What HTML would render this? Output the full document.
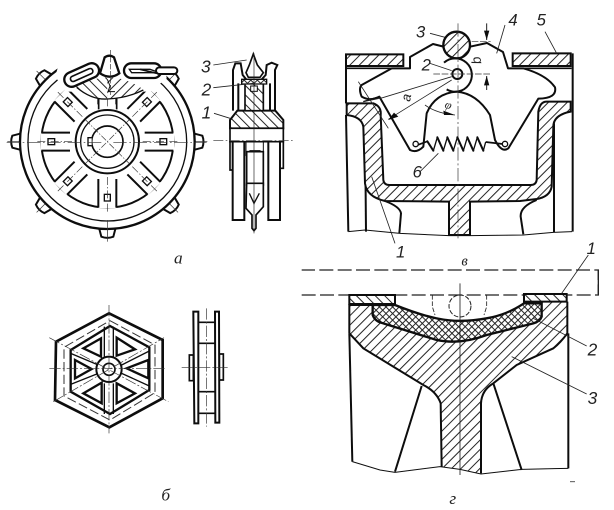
<!DOCTYPE html>
<html><head><meta charset="utf-8"><style>
html,body{margin:0;padding:0;background:#fff;width:614px;height:510px;overflow:hidden}
svg{display:block}
text{fill:#222;font-family:"Liberation Sans",sans-serif;font-style:italic}
.s{font-family:"Liberation Serif",serif}
</style></head><body>
<svg width="614" height="510" viewBox="0 0 614 510" xmlns="http://www.w3.org/2000/svg">
<defs>
<filter id="b" x="-2%" y="-2%" width="104%" height="104%"><feGaussianBlur stdDeviation="0.35"/></filter>
<pattern id="h1" width="20" height="20" patternUnits="userSpaceOnUse" patternTransform="rotate(45)"><rect width="20" height="20" fill="#fff"/><rect width="3" height="20" fill="#222"/></pattern>
<pattern id="h2" width="20" height="20" patternUnits="userSpaceOnUse" patternTransform="rotate(-45)"><rect width="20" height="20" fill="#fff"/><rect width="3" height="20" fill="#222"/></pattern>
<pattern id="x" width="14" height="14" patternUnits="userSpaceOnUse" patternTransform="rotate(45)"><rect width="14" height="14" fill="#fff"/><rect width="3" height="14" fill="#222"/><rect width="14" height="3" fill="#222"/></pattern>
<g id="spoke"><rect x="-27" y="-200" width="54" height="110" fill="#fff"/><path d="M-27,-198V-112M27,-198V-112" fill="none" stroke="#111" stroke-width="6"/><rect x="-9" y="-178" width="18" height="20" fill="#fff" stroke="#111" stroke-width="4"/><path d="M0,-210V-100" stroke="#333" stroke-width="2" stroke-dasharray="24 6 4 6"/></g>
<g id="tooth"><path d="M-24,-262L-18,-285Q0,-292 18,-285L24,-262" fill="#fff" stroke="#111" stroke-width="6"/><path d="M0,-300V-262" stroke="#333" stroke-width="2"/></g>
</defs>
<rect width="614" height="510" fill="#fff"/>
<g filter="url(#b)">

<!-- PANEL A -->
<g transform="translate(0,20) scale(.33333)">
  <g transform="translate(322,365)">
    <use href="#tooth" transform="rotate(45)"/><use href="#tooth" transform="rotate(90)"/><use href="#tooth" transform="rotate(135)"/><use href="#tooth" transform="rotate(180)"/><use href="#tooth" transform="rotate(225)"/><use href="#tooth" transform="rotate(270)"/><use href="#tooth" transform="rotate(315)"/>
    <circle r="262" fill="#fff" stroke="#111" stroke-width="7"/>
    <circle r="238" fill="none" stroke="#111" stroke-width="4"/>
    <circle r="198" fill="#fff" stroke="#111" stroke-width="6"/>
    <use href="#spoke"/><use href="#spoke" transform="rotate(45)"/><use href="#spoke" transform="rotate(90)"/><use href="#spoke" transform="rotate(135)"/><use href="#spoke" transform="rotate(180)"/><use href="#spoke" transform="rotate(225)"/><use href="#spoke" transform="rotate(270)"/><use href="#spoke" transform="rotate(315)"/>
    <circle r="95" fill="#fff" stroke="#111" stroke-width="6"/>
    <circle r="80" fill="none" stroke="#111" stroke-width="4"/>
    <circle r="47" fill="#fff" stroke="#111" stroke-width="5"/>
    <path d="M-47,-12H-58V12H-47" fill="#fff" stroke="#111" stroke-width="4"/>
    <path d="M-66,-66L66,66M-66,66L66,-66" stroke="#333" stroke-width="2" stroke-dasharray="20 5 4 5"/>
  </g>
  <path d="M20,368H305M340,368H620" stroke="#333" stroke-width="2" stroke-dasharray="40 8 5 8"/>
  <path d="M322,600V650" stroke="#333" stroke-width="2"/>
  <path d="M190,92H490L500,175L450,215H200L165,170Z" fill="#fff"/>
  <path d="M225,200Q270,175 322,172V236L300,236Q260,232 225,200Z" fill="url(#h2)"/>
  <path d="M322,172Q380,172 430,208Q390,228 345,236L322,236Z" fill="url(#h1)"/>
  <path d="M230,202Q275,240 322,237Q380,235 430,210" fill="none" stroke="#111" stroke-width="4"/>
  <path d="M296,236V268M350,236V268" fill="none" stroke="#111" stroke-width="5"/>
  <rect x="-55" y="-22" width="110" height="44" rx="22" transform="translate(245,165) rotate(-24)" fill="#fff" stroke="#111" stroke-width="7"/>
  <rect x="-36" y="-8" width="72" height="16" rx="8" transform="translate(245,165) rotate(-24)" fill="#fff" stroke="#111" stroke-width="5"/>
  <rect x="372" y="130" width="112" height="44" rx="22" fill="#fff" stroke="#111" stroke-width="7"/>
  <path d="M388,148H450L478,158L395,158Z" fill="#fff" stroke="#111" stroke-width="4"/>
  <path d="M420,148L470,160" stroke="#111" stroke-width="5"/>
  <rect x="468" y="142" width="64" height="20" rx="10" fill="#fff" stroke="#111" stroke-width="6"/>
  <path d="M300,160L314,112Q328,102 342,112L358,160Q330,180 300,160Z" fill="#fff" stroke="#111" stroke-width="7"/>
  <path d="M332,90V225" stroke="#333" stroke-width="2" stroke-dasharray="16 5"/>
  <path d="M322,178L330,198L324,215H345" fill="none" stroke="#111" stroke-width="3"/>

  <!-- side view -->
  <path d="M690,362V450H697M850,362V445H840" fill="none" stroke="#111" stroke-width="5"/>
  <path d="M698,365V600H733V365M805,365V600H840V365" fill="#fff" stroke="#111" stroke-width="6"/>
  <path d="M738,365V405L750,392H780L790,405V365Z" fill="#fff" stroke="#111" stroke-width="3"/>
  <rect x="740" y="395" width="50" height="100" fill="#fff" stroke="#111" stroke-width="5"/>
  <path d="M740,490H790V560L768,585V625L762,632L756,625V585L738,565Z" fill="#fff" stroke="#111" stroke-width="5"/>
  <path d="M748,520L762,550L778,520" fill="none" stroke="#111" stroke-width="4"/>
  <path d="M690,325V300L712,272H826L850,300V325Z" fill="url(#h2)" stroke="#111" stroke-width="6"/>
  <path d="M735,272V190H790V272Z" fill="url(#h2)" stroke="#111" stroke-width="5"/>
  <path d="M690,325V365H850V325Z" fill="#fff" stroke="#111" stroke-width="5"/>
  <path d="M699,272V150L706,130H722L728,165L745,186M715,272V190M825,272V150L832,135L815,128L800,135L797,165L778,186M810,272V190" fill="none" stroke="#111" stroke-width="6"/>
  <path d="M738,158L748,135L760,102L772,135L790,158L780,172H745Z" fill="#fff" stroke="#111" stroke-width="5"/>
  <path d="M725,178H800V192H725Z" fill="url(#x)" stroke="#111" stroke-width="4"/>
  <rect x="752" y="198" width="20" height="16" fill="#fff" stroke="#111" stroke-width="3"/>
  <path d="M762,100V640" stroke="#222" stroke-width="2"/>
  <path d="M640,362H885" stroke="#333" stroke-width="2" stroke-dasharray="30 7 5 7"/>
  <path d="M640,135L740,120M640,203L760,190M642,280L690,295" stroke="#222" stroke-width="2.5" fill="none"/>
  <text x="603" y="157" font-size="52">3</text>
  <text x="605" y="227" font-size="52">2</text>
  <text x="605" y="295" font-size="52">1</text>
  <text x="522" y="730" font-size="52" class="s">а</text>
</g>

<!-- PANEL B -->
<g transform="translate(20,290) scale(.33333)">
  <path d="M267,70L428,150V325L268,412L105,330L108,155Z" fill="#fff" stroke="#111" stroke-width="8"/>
  <path d="M270,108L388,172V300L270,372L152,305V180Z" fill="#fff" stroke="#111" stroke-width="7"/>
  <path d="M270,92L405,165V308L270,390L132,318V172Z" fill="none" stroke="#333" stroke-width="3" stroke-dasharray="28 10"/>
  <path d="M190,175L243,145V200ZM290,143L345,178L290,197ZM385,210V265L320,235ZM165,210L215,237L165,265ZM190,310L245,278V340ZM290,280L345,310L290,340Z" fill="#fff" stroke="#111" stroke-width="7"/>
  <path d="M253,110V200M280,110V200M253,280V372M280,280V372M152,190L235,225M152,283L235,250M388,183L305,225M388,288L305,250" stroke="#111" stroke-width="4" fill="none"/>
  <circle cx="267" cy="238" r="38" fill="#fff" stroke="#111" stroke-width="6"/>
  <circle cx="267" cy="238" r="18" fill="#fff" stroke="#111" stroke-width="5"/>
  <path d="M267,45V430M88,236H437M88,143L445,335M100,335L432,143" stroke="#333" stroke-width="2" stroke-dasharray="34 6 6 6"/>
  <path d="M508,195H520V272H508ZM598,192H610V270H598Z" fill="#fff" stroke="#111" stroke-width="5"/>
  <path d="M520,65H535V400H523ZM585,65H597L598,398H586Z" fill="#fff" stroke="#111" stroke-width="6"/>
  <path d="M535,97H585M535,160H585M535,305H585M535,370H585" stroke="#111" stroke-width="5"/>
  <path d="M560,55V410M485,233H625" stroke="#333" stroke-width="2" stroke-dasharray="34 6 6 6"/>
  <text x="424" y="632" font-size="52" class="s">б</text>
</g>

<!-- PANEL V -->
<g transform="translate(320,0) scale(.33333)">
  <path d="M78,163V310M758,160V695M78,345L85,695M135,370L138,695M702,370V697" fill="none" stroke="#111" stroke-width="6"/>
  <path d="M78,163H250V198H78ZM578,160H752V198H578Z" fill="url(#h1)" stroke="#111" stroke-width="6"/>
  <path d="M80,205H215M564,205H755" stroke="#111" stroke-width="5"/>
  <path d="M80,310H160Q185,320 182,345L190,540Q192,555 208,555H632Q648,555 650,540L655,335Q660,305 680,305H752V335Q700,345 700,380L695,560Q690,590 650,597L600,603L450,605V705H387V605L195,603Q140,590 135,550L130,380Q125,350 80,345Z" fill="url(#h1)" stroke="#111" stroke-width="6"/>
  <path d="M195,603Q240,620 243,640L238,700M650,600Q600,620 602,650L610,703" fill="none" stroke="#111" stroke-width="6"/>
  <path d="M85,695L135,690L240,700L387,707L450,707L610,705L700,697L756,695" fill="none" stroke="#111" stroke-width="3"/>
  <!-- rockers fill -->
  <path d="M270,205V171L339,132L410,150L501,129L549,156L564,204H610Q680,225 705,262Q712,295 655,296L565,445Q545,460 525,420Q515,340 470,290Q440,270 410,275Q345,280 320,340L310,440Q290,460 270,450L178,290Q150,305 125,290Q115,265 125,255L215,205Z" fill="#fff"/>
  <path d="M375,141L339,132L270,171V205H215L125,255Q115,265 125,290Q150,305 178,290L270,450Q290,460 310,440L320,340Q345,280 410,275Q470,280 510,345L525,420Q545,460 565,445L655,296Q712,295 705,262Q680,225 610,205H564L549,156L501,129L450,140" fill="none" stroke="#111" stroke-width="6" stroke-linejoin="round"/>
  <path d="M178,290L130,305" stroke="#111" stroke-width="4"/>
  <path d="M372,188A50,50 0 1 1 380,268" fill="none" stroke="#111" stroke-width="6"/>
  <circle cx="412" cy="222" r="15" fill="#fff" stroke="#111" stroke-width="6"/>
  <circle cx="410" cy="135" r="40" fill="url(#h1)" stroke="#111" stroke-width="7"/>
  <path d="M414,70V715" stroke="#333" stroke-width="2" stroke-dasharray="40 8 6 8"/>
  <path d="M340,222H515M455,125H512" stroke="#333" stroke-width="2" stroke-dasharray="20 5"/>
  <circle cx="287" cy="432" r="8" fill="#fff" stroke="#111" stroke-width="4"/>
  <circle cx="555" cy="432" r="8" fill="#fff" stroke="#111" stroke-width="4"/>
  <path d="M295,434L322,424M497,426L548,432" fill="none" stroke="#111" stroke-width="5"/>
  <path d="M322,424L340,452M352,412L370,452M382,412L400,452M412,412L430,452M442,412L460,452M472,412L490,452" fill="none" stroke="#111" stroke-width="6" stroke-linecap="round"/>
  <path d="M340,452L352,412M370,452L382,412M400,452L412,412M430,452L442,412M460,452L472,412M490,452L497,426" fill="none" stroke="#111" stroke-width="4"/>
  <path d="M130,305L188,293L395,230M115,245L205,385M205,358L395,240" fill="none" stroke="#222" stroke-width="2.5"/>
  <path d="M205,360L235,350L222,338Z" fill="#111"/>
  <path d="M315,315Q350,340 405,345" fill="none" stroke="#222" stroke-width="2.5"/>
  <path d="M405,345L370,332L372,345Z" fill="#111"/>
  <path d="M500,70V120M500,270V228" stroke="#222" stroke-width="3"/>
  <path d="M500,120L492,92H508ZM500,228L492,256H508Z" fill="#111"/>
  <path d="M330,100L375,112M330,190L395,212M675,95L710,160M555,75L530,160M355,460L300,515M155,530L225,730" fill="none" stroke="#222" stroke-width="2.5"/>
  <text x="288" y="112" font-size="50">3</text>
  <text x="305" y="212" font-size="50">2</text>
  <text x="565" y="77" font-size="50">4</text>
  <text x="650" y="77" font-size="50">5</text>
  <text x="278" y="532" font-size="50">6</text>
  <text x="228" y="772" font-size="50">1</text>
  <text x="800" y="762" font-size="50">1</text>
  <text x="424" y="797" font-size="44" class="s">в</text>
  <text font-size="40" transform="translate(270,306) rotate(-80)">а</text>
  <text font-size="40" transform="translate(484,190) rotate(-100)">b</text>
  <text font-size="36" transform="translate(372,322) rotate(20)" class="s">φ</text>
</g>

<!-- PANEL G -->
<g transform="translate(320,260) scale(.33333)">
  <path d="M-55,105H835V30H-55" fill="none" stroke="#222" stroke-width="4" stroke-dasharray="42 13"/>
  <path d="M835,30V102" stroke="#222" stroke-width="4"/>
  <path d="M88,135H158V170Q170,185 190,190L350,240Q420,255 500,225L640,190Q665,180 665,130H612V125H742V220Q720,250 700,265L590,315L520,370Q485,390 483,430L483,640L365,620L362,430Q350,395 310,375L130,265L88,220Z" fill="url(#h1)"/>
  <path d="M88,220L88,135H158M742,125V220Q720,250 700,265L590,315L520,370Q485,390 483,430L483,640M365,620L362,430Q350,395 310,375L130,265L88,220" fill="none" stroke="#111" stroke-width="6"/>
  <path d="M88,105H225V132H88ZM612,102H740V125H612Z" fill="url(#h2)" stroke="#111" stroke-width="6"/>
  <path d="M158,135H225Q300,165 350,175Q420,190 500,175Q560,165 612,130H665V170Q660,185 640,190L500,225Q420,255 350,240L190,190Q165,185 158,165Z" fill="url(#x)" stroke="#111" stroke-width="7"/>
  <path d="M88,220L97,605M745,220V625M305,378L225,635M520,370L605,630" fill="none" stroke="#111" stroke-width="6"/>
  <path d="M97,605L180,630L225,637L360,620L420,628L483,642L605,628L745,625" fill="none" stroke="#111" stroke-width="3"/>
  <circle cx="420" cy="138" r="33" fill="none" stroke="#222" stroke-width="3" stroke-dasharray="14 5"/>
  <path d="M337,105V140L345,165M500,105V140L492,165" fill="none" stroke="#222" stroke-width="2.5" stroke-dasharray="14 5"/>
  <path d="M420,70V645" stroke="#222" stroke-width="2.5"/>
  <path d="M725,100L805,-15M640,175L800,258M575,290L800,402" fill="none" stroke="#222" stroke-width="2.5"/>
  <path d="M750,665H765" stroke="#555" stroke-width="3"/>
  <text x="803" y="287" font-size="52">2</text>
  <text x="803" y="432" font-size="52">3</text>
  <text x="388" y="732" font-size="52" class="s">г</text>
</g>
</g>
</svg>
</body></html>
